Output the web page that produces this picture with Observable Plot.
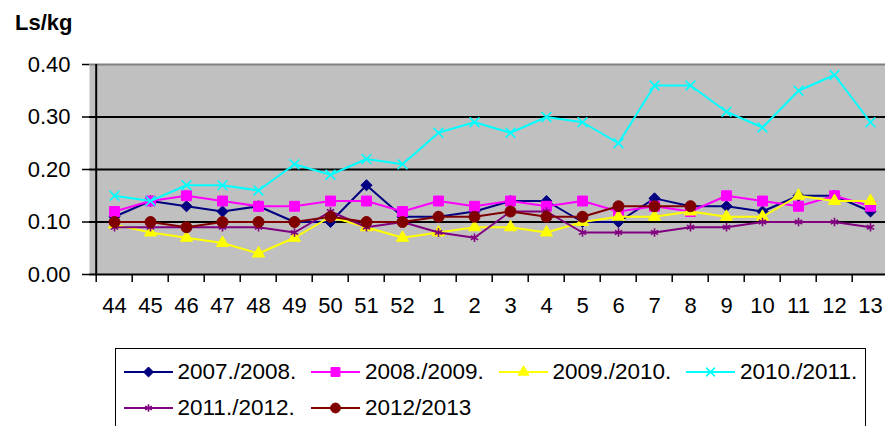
<!DOCTYPE html>
<html><head><meta charset="utf-8">
<script src="https://cdn.jsdelivr.net/npm/d3@7"></script>
<script src="https://cdn.jsdelivr.net/npm/@observablehq/plot@0.6"></script>
<style>
html,body{margin:0;padding:0}
body{width:885px;height:426px;overflow:hidden;background:#fff;font-family:"Liberation Sans",Arial,sans-serif;position:relative}
#unit{position:absolute;left:15px;top:12px;font-weight:bold;font-size:22px;line-height:22px;color:#000}
#chart{position:absolute;left:0;top:40px;width:894px}
#chart svg{max-width:none !important;width:894px;height:290px}
#legend{position:absolute;left:115px;top:348px;width:751px;height:110px;border:1.5px solid #000;box-sizing:border-box;background:#fff}
.item{position:absolute;height:36px;display:flex;align-items:center;font-size:22.5px;color:#000;white-space:nowrap}
.item svg{margin-right:5px;display:block}
</style></head>
<body>
<div id="unit">Ls/kg</div>
<div id="chart"></div>
<div id="legend"></div>
<script>
const weeks = ["44","45","46","47","48","49","50","51","52","1","2","3","4","5","6","7","8","9","10","11","12","13"];
const yTicks = [0, 0.1, 0.2, 0.3, 0.4];
const gridLines = [0.1, 0.2, 0.3];

const seriesNames = ["2007./2008.", "2008./2009.", "2009./2010.", "2010./2011.", "2011./2012.", "2012/2013"];
const s0708 = [0.11,0.14,0.13,0.12,0.13,0.10,0.10,0.17,0.11,0.11,0.12,0.14,0.14,0.10,0.10,0.145,0.13,0.13,0.12,0.15,0.15,0.12];
const s0809 = [0.12,0.14,0.15,0.14,0.13,0.13,0.14,0.14,0.12,0.14,0.13,0.14,0.13,0.14,0.12,0.13,0.12,0.15,0.14,0.13,0.15,0.13];
const s0910 = [0.095,0.08,0.07,0.06,0.04,0.07,0.11,0.09,0.07,0.08,0.09,0.09,0.08,0.10,0.11,0.11,0.12,0.11,0.11,0.15,0.14,0.14];
const s1011 = [0.15,0.14,0.17,0.17,0.16,0.21,0.19,0.22,0.21,0.27,0.29,0.27,0.30,0.29,0.25,0.36,0.36,0.31,0.28,0.35,0.38,0.29];
const s1112 = [0.09,0.09,0.09,0.09,0.09,0.08,0.12,0.09,0.10,0.08,0.07,0.12,0.12,0.08,0.08,0.08,0.09,0.09,0.10,0.10,0.10,0.09];
const s1213 = [0.10,0.10,0.09,0.10,0.10,0.10,0.11,0.10,0.10,0.11,0.11,0.12,0.11,0.11,0.13,0.13,0.13,null,null,null,null,null];
const seriesValues = [s0708, s0809, s0910, s1011, s1112, s1213];

const seriesColors = ["#000080", "#ff00ff", "#ffff00", "#00ffff", "#800080", "#800000"];
const seriesSymbols = ["diamond2", "square", "triangle", "times", "asterisk", "circle"];
const symbolR = [5, 5.6, 4.5, 4.5, 4, 5.5];
const symbolFilled = [true, true, true, false, false, true];

const d3Symbols = {diamond2: d3.symbolDiamond2, square: d3.symbolSquare, triangle: d3.symbolTriangle, times: d3.symbolTimes, asterisk: d3.symbolAsterisk, circle: d3.symbolCircle};

const W = 894, ML = 89, MR = 0;
const step = (W - ML - MR) / weeks.length;

const seriesMarks = [];
seriesNames.forEach((name, k) => {
  const rows = [];
  seriesValues[k].forEach((v, i) => { if (v != null) rows.push({week: weeks[i], value: v, series: name}); });
  seriesMarks.push(Plot.line(rows, {x: "week", y: "value", stroke: seriesColors[k], strokeWidth: 2}));
  seriesMarks.push(Plot.dot(rows, {
    x: "week", y: "value", symbol: seriesSymbols[k], r: symbolR[k],
    fill: symbolFilled[k] ? seriesColors[k] : "none",
    stroke: seriesColors[k], strokeWidth: symbolFilled[k] ? 1 : 1.6
  }));
});

const chart = Plot.plot({
  width: W, height: 290,
  marginTop: 24, marginBottom: 56, marginLeft: ML, marginRight: MR,
  style: {fontFamily: "Liberation Sans, Arial, sans-serif", fontSize: "22px", background: "transparent", color: "#000", overflow: "visible", maxWidth: "none"},
  x: {type: "point", domain: weeks, padding: 0.5, align: 0.5},
  y: {domain: [0, 0.4]},
  marks: [
    Plot.frame({fill: "#c0c0c0", stroke: "none"}),
    Plot.ruleY(gridLines, {stroke: "#000", strokeWidth: 2}),
    Plot.ruleY([yTicks[yTicks.length - 1]], {stroke: "#808080", strokeWidth: 2}),
    Plot.axisY({ticks: yTicks, tickSize: 7, tickPadding: 12, tickFormat: d3.format(".2f"), label: null, fontSize: 22, strokeWidth: 1.5}),
    Plot.axisX({tickSize: 0, tickPadding: 23, label: null, fontSize: 22}),
    Plot.axisX({tickSize: 8, tickFormat: () => "", dx: -step / 2, label: null, strokeWidth: 1.5}),
    Plot.ruleY([0], {stroke: "#000", strokeWidth: 2}),
    Plot.ruleX([weeks[0]], {dx: -step / 2, y1: 0, y2: 0.4, stroke: "#000", strokeWidth: 2}),
    ...seriesMarks
  ]
});
document.getElementById("chart").appendChild(chart);

// legend
const legend = document.getElementById("legend");
seriesNames.forEach((name, k) => {
  const col = k % 4, row = Math.floor(k / 4);
  const item = document.createElement("div");
  item.className = "item";
  item.style.left = (7.5 + 187.5 * col) + "px";
  item.style.top = (4.5 + 36 * row) + "px";
  const svg = d3.create("svg").attr("width", 49).attr("height", 36);
  svg.append("line").attr("x1", 0).attr("x2", 49).attr("y1", 18).attr("y2", 18)
    .attr("stroke", seriesColors[k]).attr("stroke-width", 2);
  const r = symbolR[k] * 0.9;
  svg.append("path")
    .attr("transform", "translate(24.5,18)")
    .attr("d", d3.symbol(d3Symbols[seriesSymbols[k]], Math.PI * r * r)())
    .attr("fill", symbolFilled[k] ? seriesColors[k] : "none")
    .attr("stroke", seriesColors[k])
    .attr("stroke-width", symbolFilled[k] ? 1 : 1.6);
  item.appendChild(svg.node());
  const span = document.createElement("span");
  span.textContent = name;
  item.appendChild(span);
  legend.appendChild(item);
});
</script>
</body></html>
